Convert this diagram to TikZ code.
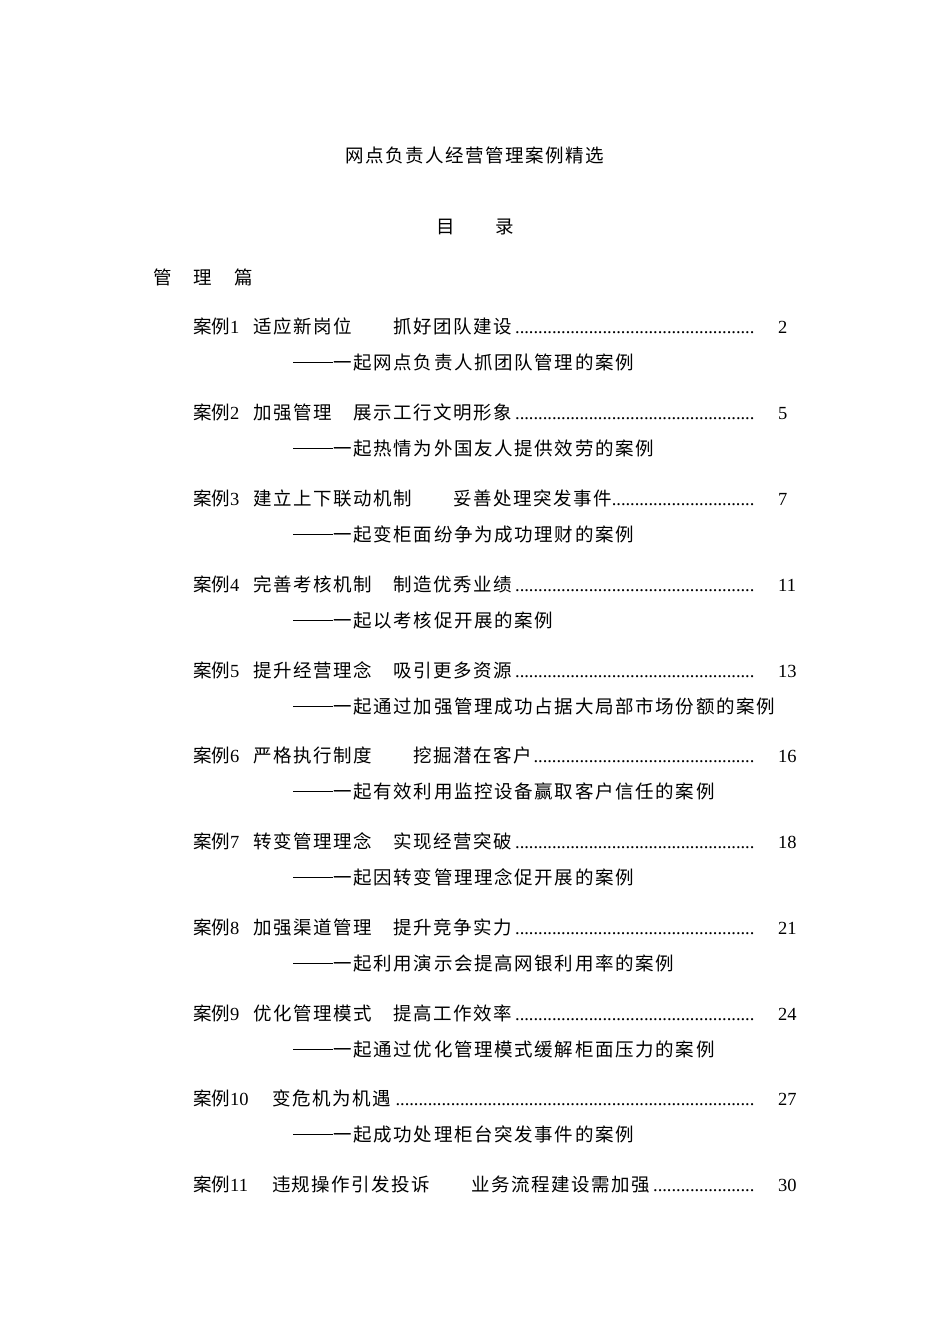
\documentclass[tikz,border=0pt]{standalone}
\usepackage{fontspec}
\setmainfont{Liberation Serif}
\newfontfamily\cjk{Noto Sans CJK SC}
\newfontfamily\cjkA[LetterSpace=8]{Noto Sans CJK SC}
\newfontfamily\cjkB[LetterSpace=9]{Noto Sans CJK SC}
\newcommand{\dfill}{\leaders\hbox to 4.6pt{\hss.\hss}\hfill}
\newcommand{\entry}[5]{% y, label, indent, title, page
  \node[anchor=base west,inner sep=0] (e#1) at (193,-#1) {\makebox[564pt][l]{\cjk 案例\rmfamily #2\hspace*{#3}\cjkA #4\rmfamily\dfill}};
  \node[anchor=base west,inner sep=0] (p#1) at (778,-#1) {#5};}
\newcommand{\sub}[2]{\node[anchor=base west,inner sep=0] (s#1) at (293,-#1) {\rmfamily\rule[6pt]{40pt}{0.6pt}\cjkB 一起#2};}
\begin{document}
\begin{tikzpicture}[x=1pt,y=1pt,every node/.style={font=\fontsize{18.5}{22}\selectfont}]
\useasboundingbox (0,0) rectangle (950,-1342);
\node[anchor=base,inner sep=0] (title) at (475,-162) {\cjkA 网点负责人经营管理案例精选};
\node[anchor=base,inner sep=0] (mu) at (446,-233) {\cjk 目};
\node[anchor=base,inner sep=0] (lu) at (505,-233) {\cjk 录};
\node[anchor=base west,inner sep=0] (pian) at (153,-284) {\cjk 管\hspace{22pt}理\hspace{22pt}篇};
\entry{333}{1}{14pt}{适应新岗位　　抓好团队建设}{2}
\sub{369}{网点负责人抓团队管理的案例}
\entry{419}{2}{14pt}{加强管理　展示工行文明形象}{5}
\sub{455}{热情为外国友人提供效劳的案例}
\entry{505}{3}{14pt}{建立上下联动机制　　妥善处理突发事件}{7}
\sub{541}{变柜面纷争为成功理财的案例}
\entry{591}{4}{14pt}{完善考核机制　制造优秀业绩}{11}
\sub{627}{以考核促开展的案例}
\entry{677}{5}{14pt}{提升经营理念　吸引更多资源}{13}
\sub{713}{通过加强管理成功占据大局部市场份额的案例}
\entry{762}{6}{14pt}{严格执行制度　　挖掘潜在客户}{16}
\sub{798}{有效利用监控设备赢取客户信任的案例}
\entry{848}{7}{14pt}{转变管理理念　实现经营突破}{18}
\sub{884}{因转变管理理念促开展的案例}
\entry{934}{8}{14pt}{加强渠道管理　提升竞争实力}{21}
\sub{970}{利用演示会提高网银利用率的案例}
\entry{1020}{9}{14pt}{优化管理模式　提高工作效率}{24}
\sub{1056}{通过优化管理模式缓解柜面压力的案例}
\entry{1105}{10}{24pt}{变危机为机遇}{27}
\sub{1141}{成功处理柜台突发事件的案例}
\entry{1191}{11}{24pt}{违规操作引发投诉　　业务流程建设需加强}{30}
\end{tikzpicture}
\end{document}
